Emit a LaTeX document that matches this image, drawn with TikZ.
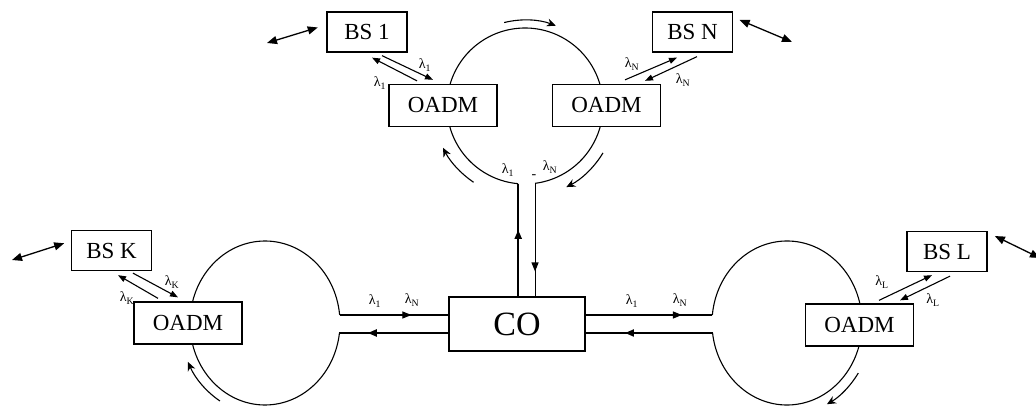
\documentclass[tikz,border=0pt]{standalone}
\usepackage{fontspec}
\setmainfont{Liberation Serif}
\usetikzlibrary{arrows.meta,decorations.markings}
\begin{document}
\begin{tikzpicture}[x=1pt,y=1pt,line width=1.1pt,
  bsbox/.style={draw,fill=white,line width=1.3pt,inner sep=0pt,minimum width=80pt,minimum height=40pt,font=\fontsize{23}{26}\selectfont},
  oadmbox/.style={bsbox,minimum width=108pt,minimum height=42pt},
  cobox/.style={bsbox,minimum width=136pt,minimum height=54pt,font=\fontsize{34}{38}\selectfont},
  lam/.style={inner sep=0pt,font=\fontsize{14}{16}\selectfont},
  sig/.style={-{Triangle[length=8pt,width=6pt]}},
  dbl/.style={{Triangle[length=10pt,width=8pt]}-{Triangle[length=10pt,width=8pt]},line width=1.3pt},
  turn/.style={-{Stealth[length=9pt,width=8pt]}},
  fat/.style={line width=2pt},
  midarrow/.style={postaction={decorate},decoration={markings,mark=at position #1 with {\arrow{Triangle[length=9pt,width=7pt]}}}}]
\fill[white] (0,0) rectangle (1036,407);
\useasboundingbox (0,0) rectangle (1036,407);
\coordinate (ct) at (525,301);
\coordinate (ck) at (265,84);
\coordinate (cl) at (787,84);

\draw (ct) ++(277.4:78) arc[start angle=277.4,end angle=624.9,radius=78];
\draw (ck) ++(5.6:75 and 82) arc[start angle=5.6,end angle=353,x radius=75,y radius=82];
\draw (cl) ++(187:75 and 82) arc[start angle=187,end angle=534.4,x radius=75,y radius=82];
\path (ct) ++(265:78) coordinate (t1) (ct) ++(277.4:78) coordinate (t2);
\path (ck) ++(5.6:75 and 82) coordinate (k1) (ck) ++(-7:75 and 82) coordinate (k2);
\path (cl) ++(174.4:75 and 82) coordinate (l1) (cl) ++(187:75 and 82) coordinate (l2);

\node[bsbox] (bs1) at (367,375) {BS 1};
\node[bsbox] (bsn) at (692.5,375) {BS N};
\node[bsbox] (bsk) at (111.5,156.5) {BS K};
\node[bsbox] (bsl) at (947,155.5) {BS L};
\node[oadmbox] (oadm1) at (443,301.5) {OADM};
\node[oadmbox] (oadmn) at (606.5,301.5) {OADM};
\node[oadmbox] (oadmk) at (188,84) {OADM};
\node[oadmbox] (oadml) at (859.5,82) {OADM};
\node[cobox] (co) at (517,83) {CO};

\draw[fat,midarrow=0.59] (t1 |- co.north) -- (t1);
\draw[midarrow=0.78] (t2) -- (t2 |- co.north);
\draw[midarrow=0.66] (k1) -- (k1 -| co.west);
\draw[fat,midarrow=0.74] (k2 -| co.west) -- (k2);
\draw[midarrow=0.76] (l1 -| co.east) -- (l1);
\draw[fat,midarrow=0.69] (l2) -- (l2 -| co.east);

\draw[sig] ([shift={(-26,3)}]oadm1.north) -- ([shift={(5,-5)}]bs1.south);
\draw[sig] ([shift={(15,-3)}]bs1.south) -- ([shift={(-10,4)}]oadm1.north);
\draw[sig] ([shift={(18.5,4)}]oadmn.north) -- ([shift={(-15.5,-5)}]bsn.south);
\draw[sig] ([shift={(4.5,-4)}]bsn.south) -- ([shift={(38.5,3)}]oadmn.north);
\draw[sig] ([shift={(-30,3)}]oadmk.north) -- ([shift={(6.5,-4)}]bsk.south);
\draw[sig] ([shift={(21.5,-2)}]bsk.south) -- ([shift={(-10,4)}]oadmk.north);
\draw[sig] ([shift={(19.5,3)}]oadml.north) -- ([shift={(-15,-3)}]bsl.south);
\draw[sig] ([shift={(3,-4)}]bsl.south) -- ([shift={(40.5,3)}]oadml.north);

\coordinate (f1) at (267,364);
\coordinate (fn) at (792,365);
\coordinate (fk) at (12,147);
\coordinate (fl) at (1040,149);
\draw[dbl,shorten >=9pt] (f1) -- (bs1.170);
\draw[dbl,shorten >=7pt] (fn) -- (bsn.20);
\draw[dbl,shorten >=7pt] (fk) -- (bsk.167);
\draw[dbl,shorten >=8pt] (fl) -- (bsl.25);

\draw[turn] (ct) ++(104:86) arc[start angle=104,end angle=69,radius=86];
\draw[turn] (ct) ++(236:92) arc[start angle=236,end angle=207,radius=92];
\draw[turn] (ct) ++(-31:91) arc[start angle=-31,end angle=-63,radius=91];
\draw[turn] (ck) ++(238:85 and 92) arc[start angle=238,end angle=205,x radius=85,y radius=92];
\draw[turn] (cl) ++(-33:85 and 92) arc[start angle=-33,end angle=-62,x radius=85,y radius=92];

\foreach \x/\y/\t [count=\i] in {425/342/1,380/324/1,632/343/N,683/327/N,508/237/1,550/240/N,
  172/125/K,127/109/K,882/125/L,933/107/L,375/106/1,412/107/N,632/106/1,680/107/N}
  \node[lam] (lam\i) at (\x,\y) {λ\textsubscript{\t}};
\node[lam] (dash) at (534,230) {-};
\end{tikzpicture}
\end{document}
